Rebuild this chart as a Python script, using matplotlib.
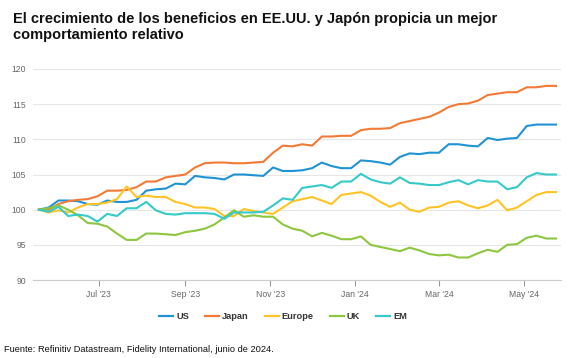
import matplotlib
matplotlib.use("Agg")
import matplotlib.pyplot as plt
import matplotlib.dates as mdates
import pandas as pd

plt.rcParams['font.family'] = ['Liberation Sans', 'DejaVu Sans']

dates = pd.date_range("2023-05-19", periods=54, freq="7D")

us = [100.0, 100.3, 101.3, 101.3, 101.2, 100.8, 100.7, 101.3, 101.1, 101.1,
      101.4, 102.7, 102.9, 103.0, 103.7, 103.6, 104.8, 104.6, 104.5, 104.3,
      105.0, 105.0, 104.9, 104.8, 106.0, 105.5, 105.5, 105.6, 105.9, 106.7,
      106.2, 105.9, 105.9, 107.0, 106.9, 106.7, 106.4, 107.5, 108.0, 107.9,
      108.1, 108.1, 109.3, 109.3, 109.1, 109.0, 110.2, 109.9, 110.1, 110.2,
      111.9, 112.1, 112.1, 112.1]
japan = [100.0, 100.0, 100.8, 101.2, 101.4, 101.5, 101.9, 102.7, 102.7, 102.8,
         103.2, 104.0, 104.0, 104.6, 104.8, 105.0, 106.0, 106.6, 106.7, 106.7,
         106.6, 106.6, 106.7, 106.8, 108.1, 109.1, 109.0, 109.3, 109.1, 110.4,
         110.4, 110.5, 110.5, 111.3, 111.5, 111.5, 111.6, 112.3, 112.6, 112.9,
         113.2, 113.8, 114.6, 115.0, 115.1, 115.5, 116.3, 116.5, 116.7, 116.7,
         117.4, 117.4, 117.6, 117.6]
europe = [100.0, 99.6, 99.9, 99.6, 100.3, 100.8, 100.8, 101.0, 101.5, 103.3,
          101.8, 102.0, 101.8, 101.8, 101.1, 100.8, 100.3, 100.3, 100.1, 99.1,
          99.1, 100.1, 99.8, 99.6, 99.4, 100.3, 101.2, 101.5, 101.8, 101.3,
          100.8, 102.1, 102.3, 102.5, 102.0, 101.1, 100.4, 101.0, 100.0, 99.7,
          100.3, 100.4, 101.0, 101.2, 100.6, 100.2, 100.6, 101.4, 99.9, 100.3,
          101.2, 102.1, 102.5, 102.5]
uk = [100.0, 100.2, 100.6, 100.0, 99.2, 98.1, 98.0, 97.6, 96.6, 95.7,
      95.7, 96.6, 96.6, 96.5, 96.4, 96.8, 97.0, 97.3, 97.9, 98.9,
      99.9, 99.0, 99.2, 99.0, 99.0, 97.9, 97.3, 97.0, 96.2, 96.7,
      96.3, 95.8, 95.8, 96.2, 95.0, 94.7, 94.4, 94.1, 94.6, 94.2,
      93.7, 93.5, 93.6, 93.2, 93.2, 93.8, 94.3, 94.0, 95.0, 95.1,
      96.0, 96.3, 95.9, 95.9]
em = [100.0, 99.7, 100.4, 99.1, 99.3, 99.1, 98.3, 99.4, 99.1, 100.2,
      100.2, 101.1, 99.9, 99.4, 99.3, 99.5, 99.5, 99.5, 99.4, 98.7,
      99.6, 99.6, 99.6, 99.7, 100.6, 101.6, 101.4, 103.1, 103.3, 103.5,
      103.1, 104.0, 104.0, 105.1, 104.3, 103.9, 103.7, 104.6, 103.8, 103.7,
      103.5, 103.5, 103.9, 104.2, 103.6, 104.2, 104.0, 104.0, 102.9, 103.2,
      104.6, 105.2, 105.0, 105.0]

series_names = ["US", "Japan", "Europe", "UK", "EM"]
series_values = [us, japan, europe, uk, em]
colors = ["#1f93d3", "#f27a35", "#ffc423", "#8dc63f", "#35c9c9"]
y_ticks = [90, 95, 100, 105, 110, 115, 120]

title_1 = "El crecimiento de los beneficios en EE.UU. y Japón propicia un mejor"
title_2 = "comportamiento relativo"
source = "Fuente: Refinitiv Datastream, Fidelity International, junio de 2024."

W, H = 584, 358
fig = plt.figure(figsize=(W / 100, H / 100), dpi=100)
ax = fig.add_axes([33 / W, 1 - 280 / H, (561 - 33) / W, (280 - 69) / H])

for name, vals, c in zip(series_names, series_values, colors):
    ax.plot(dates, vals, color=c, lw=1.5, label=name, solid_joinstyle='round')

ax.set_ylim(90, 120)
ax.set_yticks(y_ticks)
ax.set_xlim(pd.Timestamp("2023-05-14 18:00"), pd.Timestamp("2024-05-27 14:00"))
ax.xaxis.set_major_locator(mdates.MonthLocator(bymonth=[1, 3, 5, 7, 9, 11]))
ax.xaxis.set_major_formatter(mdates.DateFormatter("%b '%y"))

ax.grid(axis='y', color='#e6e6e6', lw=0.8)
ax.set_axisbelow(True)
for s in ['top', 'right', 'left']:
    ax.spines[s].set_visible(False)
ax.spines['bottom'].set_color('#cccccc')
ax.spines['bottom'].set_linewidth(0.8)
ax.tick_params(axis='y', length=0, pad=5, labelsize=6.2, labelcolor='#666666')
ax.tick_params(axis='x', length=4, width=0.8, color='#999999', pad=3,
               labelsize=6.2, labelcolor='#666666')

fig.text(12.7 / W, 1 - 22.5 / H, title_1, fontsize=10.5, fontweight='bold',
         va='baseline', ha='left', color='#111111')
fig.text(12.7 / W, 1 - 39.5 / H, title_2, fontsize=10.5, fontweight='bold',
         va='baseline', ha='left', color='#111111')

leg = fig.legend(loc='center', bbox_to_anchor=(283 / W, 1 - 316.7 / H), ncol=5,
                 frameon=False, handlelength=1.5, handletextpad=0.35,
                 columnspacing=1.7, prop={'weight': 'bold', 'size': 6.7})
for t in leg.get_texts():
    t.set_color('#333333')
for l in leg.get_lines():
    l.set_linewidth(1.6)

fig.text(4 / W, 1 - 351.5 / H, source, fontsize=6.7, va='baseline', ha='left', color='#111111')

fig.savefig("out.png", dpi=100)
